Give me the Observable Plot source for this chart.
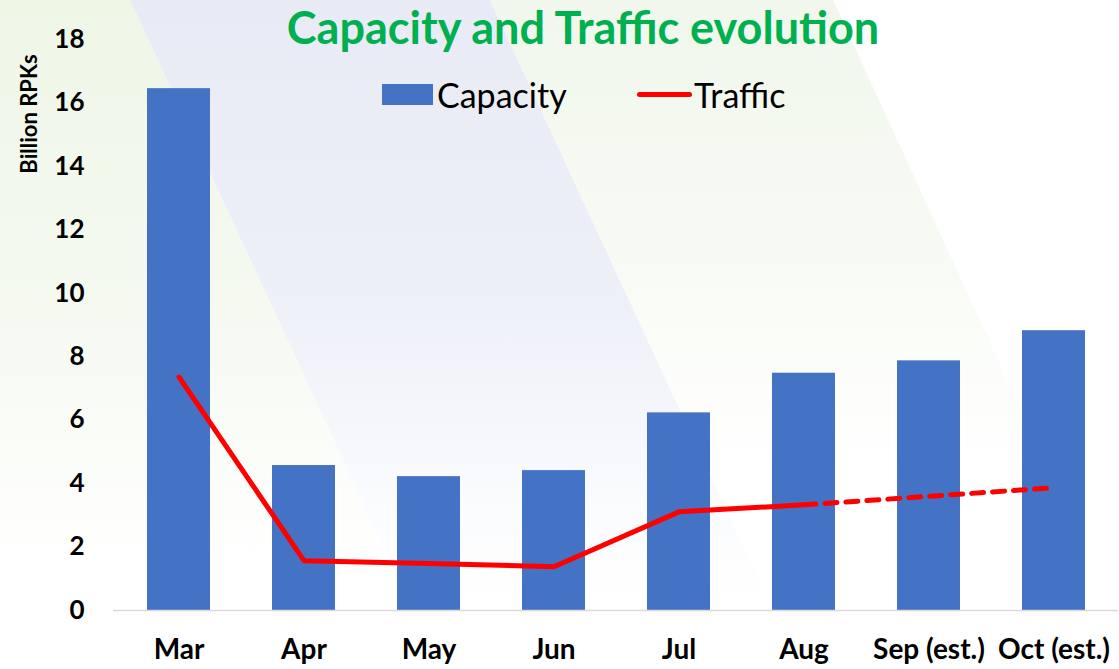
<!DOCTYPE html>
<html>
<head>
<meta charset="utf-8">
<script src="https://cdn.jsdelivr.net/npm/d3@7"></script>
<script src="https://cdn.jsdelivr.net/npm/@observablehq/plot@0.6"></script>
<style>
  html, body { margin: 0; padding: 0; background: #fff; }
  #wrap { position: relative; width: 1119px; height: 669px; overflow: hidden; font-family: Lato, "Open Sans", sans-serif; }
  .bg { position: absolute; left: 0; top: 0; width: 1119px; height: 669px; }
  #title { position: absolute; left: 0; width: 1166px; top: 2px; line-height: 50px; text-align: center; color: #00B050; font-weight: 700; font-size: 45px; }
  #ylabel { position: absolute; left: 28px; top: 114px; transform: translate(-50%, -50%) rotate(-90deg); font-weight: 700; font-size: 22px; white-space: nowrap; color: #000; }
  .leg { position: absolute; top: 74px; font-size: 34px; color: #000; display: flex; align-items: center; }
  #chart { position: absolute; left: 0; top: 0; }
  #chart svg g[aria-label^="x-axis"] text { font-size: 28px; font-weight: 700; fill: #000; }
  #chart svg g[aria-label^="y-axis"] text { font-size: 26px; font-weight: 700; fill: #000; }
</style>
</head>
<body>
<div id="wrap">
  <div class="bg" style="clip-path: polygon(0 0, 130px 0, 440px 669px, 0 669px); background: linear-gradient(to bottom, #eef6e6 0%, #f6faf2 50%, #ffffff 85%);"></div>
  <div class="bg" style="clip-path: polygon(130px 0, 490px 0, 800px 669px, 440px 669px); background: linear-gradient(to bottom, #e8ebf5 0%, #eef0f8 45%, #fafbfd 75%, #ffffff 90%);"></div>
  <div class="bg" style="clip-path: polygon(490px 0, 833px 0, 1140px 669px, 800px 669px); background: linear-gradient(to bottom, #f1f7ec 0%, #f8fbf5 40%, #ffffff 70%);"></div>
  <div id="chart"></div>
  <div id="title">Capacity and Traffic evolution</div>
  <div id="ylabel">Billion RPKs</div>
  <div class="leg" style="left:382px;"><span style="display:inline-block;width:51px;height:21px;background:#4472C4;margin-right:4px;"></span>Capacity</div>
  <div class="leg" style="left:637px;"><span style="display:inline-block;width:55px;height:5px;border-radius:3px;background:#FF0000;margin-right:2px;"></span>Traffic</div>
</div>
<script>
const months = ["Mar", "Apr", "May", "Jun", "Jul", "Aug", "Sep (est.)", "Oct (est.)"];
const capacity = [16.45, 4.57, 4.22, 4.41, 6.23, 7.48, 7.87, 8.82];
const traffic = [7.36, 1.57, 1.48, 1.38, 3.11, 3.33, 3.60, 3.87];
const estimated = [false, false, false, false, false, false, true, true];
const yTicks = [0, 2, 4, 6, 8, 10, 12, 14, 16, 18];

const rows = months.map((m, i) => ({month: m, capacity: capacity[i], traffic: traffic[i], est: estimated[i]}));
const actual = rows.filter(d => !d.est);
const projected = rows.filter((d, i) => d.est || (i + 1 < rows.length && rows[i + 1].est));

const chart = Plot.plot({
  width: 1119,
  height: 669,
  marginLeft: 113,
  marginRight: 1,
  marginTop: 39,
  marginBottom: 59,
  style: {background: "transparent", fontFamily: "Lato, 'Open Sans', sans-serif", color: "#000"},
  x: {domain: months, paddingInner: 0.5, paddingOuter: 0.25, label: null},
  y: {domain: [0, 18], label: null},
  marks: [
    Plot.barY(rows, {x: "month", y: "capacity", fill: "#4472C4"}),
    Plot.ruleY([0], {stroke: "#d9d9d9", strokeWidth: 1.5}),
    Plot.lineY(actual, {x: "month", y: "traffic", stroke: "#FF0000", strokeWidth: 5, strokeLinecap: "round", strokeLinejoin: "round"}),
    Plot.lineY(projected, {x: "month", y: "traffic", stroke: "#FF0000", strokeWidth: 5, strokeLinecap: "round", strokeDasharray: "12,9"}),
    Plot.axisX({tickSize: 0, tickPadding: 29, label: null}),
    Plot.axisY({ticks: yTicks, tickSize: 0, tickPadding: 29, label: null})
  ]
});
document.getElementById("chart").appendChild(chart);
</script>
</body>
</html>
